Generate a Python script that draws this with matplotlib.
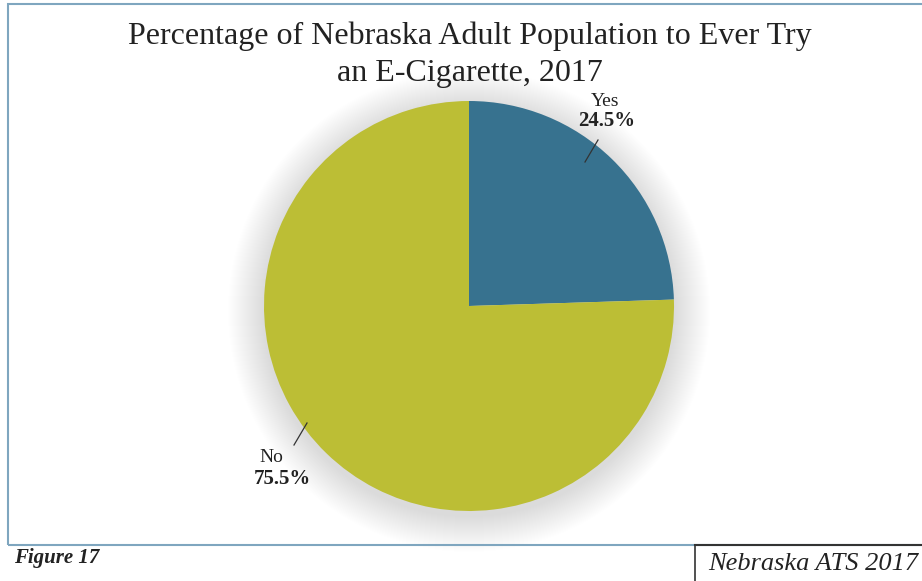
import matplotlib.pyplot as plt
from matplotlib.patches import Circle, Rectangle

labels = ["Yes", "No"]
values = [24.5, 75.5]
colors = ["#37728f", "#bcbe35"]

W, H = 922, 581
fig = plt.figure(figsize=(W / 100, H / 100), dpi=100)
ax = fig.add_axes([0, 0, 1, 1])

serif = ["Liberation Serif", "DejaVu Serif"]

cx, cy, r = 469, H - 306, 205

# soft shadow under the pie
for i in range(36):
    ax.add_patch(Circle((cx, cy - 5), r + 36 - i, color="#000000",
                        alpha=0.005, lw=0, zorder=1))

ax.pie(values, colors=colors, startangle=90, counterclock=False,
       center=(cx, cy), radius=r, frame=True,
       wedgeprops=dict(linewidth=0, zorder=2))
ax.set_xlim(0, W)
ax.set_ylim(0, H)
ax.set_aspect("equal")
ax.axis("off")

# frame around the chart
ax.add_patch(Rectangle((8, H - 545), W + 10, 541, fill=False,
                       edgecolor="#7fa6bf", lw=1.5))
# source box in the lower right
ax.plot([695, W], [H - 545, H - 545], color="#333333", lw=1.5)
ax.plot([695, 695], [H - 545, 0], color="#333333", lw=1.2)

ax.text(470, H - 36, "Percentage of Nebraska Adult Population to Ever Try",
        ha="center", va="center", fontsize=23, family=serif, color="#222222")
ax.text(470, H - 73, "an E-Cigarette, 2017",
        ha="center", va="center", fontsize=23, family=serif, color="#222222")

# slice labels with leader lines
ax.text(605, H - 101, labels[0], ha="center", va="center", fontsize=14,
        family=serif, color="#222222")
ax.text(607, H - 121, f"{values[0]}%", ha="center", va="center", fontsize=15,
        family=serif, weight="bold", color="#222222")
ax.plot([598, 585], [H - 140, H - 162], color="#333333", lw=0.9, zorder=3)

ax.text(271, H - 458, labels[1], ha="center", va="center", fontsize=14,
        family=serif, color="#222222")
ax.text(282, H - 479, f"{values[1]}%", ha="center", va="center", fontsize=15,
        family=serif, weight="bold", color="#222222")
ax.plot([294, 307], [H - 445, H - 423], color="#333333", lw=0.9, zorder=3)

ax.text(14, H - 558, "Figure 17", ha="left", va="center", fontsize=15,
        family=serif, weight="bold", style="italic", color="#222222")
ax.text(813, H - 564, "Nebraska ATS 2017", ha="center", va="center",
        fontsize=19, family=serif, style="italic", color="#222222")

fig.savefig("out.png", dpi=100)
